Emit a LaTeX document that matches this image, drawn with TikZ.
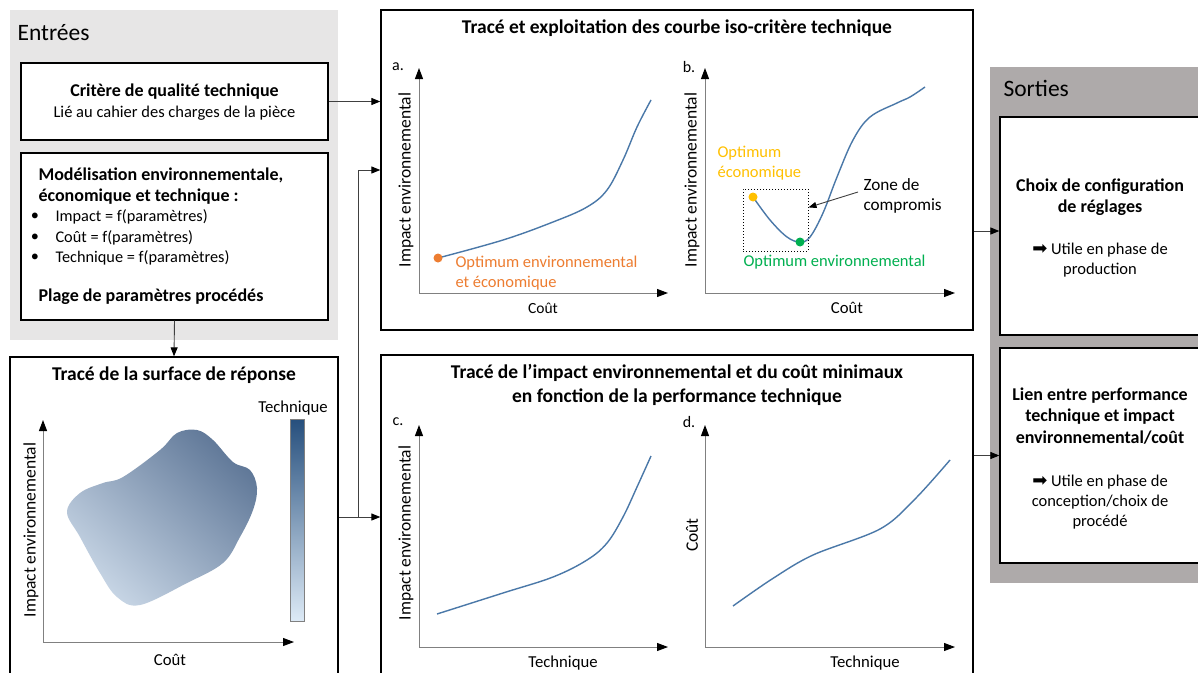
\documentclass[tikz,border=0pt]{standalone}
\usepackage{fontspec}
\setmainfont{Carlito}
\newfontfamily\symfont{DejaVu Sans}
\usetikzlibrary{arrows.meta,calc,shadings}
\definecolor{entreesbg}{HTML}{E7E6E6}
\definecolor{sortiesbg}{HTML}{AEAAAA}
\definecolor{linegray}{HTML}{404040}
\definecolor{axisgray}{HTML}{808080}
\definecolor{curveblue}{HTML}{4A78A8}
\definecolor{optorange}{HTML}{ED7D31}
\definecolor{optyellow}{HTML}{FFC000}
\definecolor{optgreen}{HTML}{00B050}
\definecolor{blobdark}{HTML}{4C6689}
\definecolor{blobmid}{HTML}{95A8C0}
\definecolor{bloblight}{HTML}{DDE9F5}
\definecolor{cbtop}{HTML}{264F7D}
\definecolor{cbbot}{HTML}{DDEAF6}
\newcommand\fsz[1]{\fontsize{#1}{\dimexpr #1pt*6/5\relax}\selectfont}
\newcommand\fszl[2]{\fontsize{#1}{#2}\selectfont}
\tikzset{
  panel/.style={rectangle, inner sep=0pt, draw=none},
  box/.style={rectangle, draw=black, line width=1.3pt, fill=white, inner sep=0pt},
  conn/.style={draw=linegray, line width=0.9pt},
  arr/.style={conn, -{Triangle[length=9pt,width=7pt,color=black]}},
  axis/.style={draw=axisgray, line width=1pt, -{Triangle[length=11pt,width=8pt,color=black]}},
  curve/.style={draw=curveblue, line width=1.4pt},
  ttl/.style={font=\bfseries\fszl{19.5}{24}},
  btxt/.style={font=\bfseries\fsz{18}},
  ntxt/.style={font=\fsz{16.3}},
  small/.style={font=\fsz{16.5}},
  coutlab/.style={font=\fsz{15.5}},
  axlab/.style={font=\fsz{17.5}},
  techlab/.style={font=\fsz{16.7}},
  letlab/.style={font=\fsz{16}},
  biglab/.style={font=\fsz{23.5}},
  optlab/.style={font=\fszl{16.5}{20}, anchor=west, align=left},
  outb/.style={font=\bfseries\fszl{18}{21.5}, align=center},
  outs/.style={font=\fszl{16.5}{20}, align=center},
}
\begin{document}
\begin{tikzpicture}[x=1pt,y=-1pt]
\useasboundingbox (0,0) rectangle (1198,672);
\clip (0,0) rectangle (1198,672);
% ---------- panels ----------
\node[panel, fill=entreesbg, minimum width=328pt, minimum height=330pt] (entrees) at (174,175) {};
\node[panel, fill=sortiesbg, minimum width=220pt, minimum height=516pt] (sorties) at (1100,325) {};
\node[biglab, anchor=west] (entl) at (14,33) {Entrées};
\node[biglab, anchor=west] (sortl) at (1000,88) {Sorties};
% ---------- input boxes ----------
\node[box, minimum width=307pt, minimum height=77pt] (crit) at (174.5,101.5) {};
\node[btxt] (critt) at (174.5,92) {Critère de qualité technique};
\node[small] (crits) at (174.5,113) {Lié au cahier des charges de la pièce};
\node[box, minimum width=307pt, minimum height=167pt] (model) at (174.5,236.5) {};
\node[btxt, anchor=west] (m1) at (35,175) {Modélisation environnementale,};
\node[btxt, anchor=west] (m2) at (35,197) {économique et technique :};
\node[ntxt] (b1) at (35,217) {•};
\node[ntxt] (b2) at (35,238) {•};
\node[ntxt] (b3) at (35,258) {•};
\node[ntxt, anchor=west] (m3) at (52,217) {Impact = f(paramètres)};
\node[ntxt, anchor=west] (m4) at (52,238) {Coût = f(paramètres)};
\node[ntxt, anchor=west] (m5) at (52,258) {Technique = f(paramètres)};
\node[btxt, anchor=west] (m6) at (35,297) {Plage de paramètres procédés};
% ---------- surface box ----------
\node[box, minimum width=328pt, minimum height=343pt] (surf) at (174,528.5) {};
\node[ttl] (surft) at (174,375) {Tracé de la surface de réponse};
\shade[upper right=blobdark, lower left=bloblight, upper left=blobmid, lower right=blobmid]
  plot[smooth cycle, tension=0.6] coordinates {(67,512) (80,493) (103,483) (123,477) (160,450) (177,433) (197,430) (213,440) (233,462) (250,470) (257,488) (253,510) (240,537) (223,563) (187,583) (140,605) (117,597) (100,573) (80,537)};
\node[draw=axisgray, line width=0.8pt, top color=cbtop, bottom color=cbbot, minimum width=14pt, minimum height=202pt, inner sep=0pt] (cbar) at (297,520) {};
\node[techlab] (cbl) at (293,408) {Technique};
\draw[axis] (43,642) -- (43,420);
\draw[axis] (43,642) -- (294,642);
\node[techlab] (sx) at (170,660) {Coût};
\node[axlab, rotate=90] (sy) at (31,530) {Impact environnemental};
% ---------- middle boxes ----------
\node[box, minimum width=592pt, minimum height=320pt] (topbox) at (677,170) {};
\node[ttl] (topt) at (677,28) {Tracé et exploitation des courbe iso-critère technique};
\node[box, minimum width=592pt, minimum height=345pt] (botbox) at (677,527.5) {};
\node[ttl, align=center] (bott) at (677,385) {Tracé de l’impact environnemental et du coût minimaux\\en fonction de la performance technique};
% chart a
\node[letlab] (la) at (398,67) {a.};
\draw[axis] (419,293) -- (419,68);
\draw[axis] (419,293) -- (668,293);
\node[coutlab] (ax) at (543,308) {Coût};
\node[axlab, rotate=90] (ay) at (406,180) {Impact environnemental};
\draw[curve] plot[smooth, tension=0.6] coordinates {(438,258) (503,240) (553,222) (587,207) (607,190) (623,160) (637,127) (651,100)};
\fill[optorange] (438,258) circle (4.5pt);
\node[optlab, text=optorange] (aopt) at (452,273) {Optimum environnemental\\et économique};
% chart b
\node[letlab] (lb) at (689,67) {b.};
\draw[axis] (705,293) -- (705,68);
\draw[axis] (705,293) -- (955,293);
\node[techlab] (bx) at (847,308) {Coût};
\node[axlab, rotate=90] (by) at (692,180) {Impact environnemental};
\node[draw, dotted, line width=1pt, minimum width=65pt, minimum height=62pt, inner sep=0pt] (zone) at (775.5,220) {};
\draw[curve] plot[smooth, tension=0.6] coordinates {(753,197) (770,220) (787,237) (800,242) (810,237) (823,213) (837,177) (853,140) (870,117) (897,103) (910,97) (925,87)};
\fill[optyellow] (753,197) circle (4.5pt);
\fill[optgreen] (800,242) circle (4.5pt);
\node[optlab, text=optyellow] (bopt1) at (714,163) {Optimum\\économique};
\node[optlab, text=optgreen] (bopt2) at (740,262) {Optimum environnemental};
\node[font=\fszl{17.2}{20.5}, anchor=west, align=left] (zlab) at (860,196) {Zone de\\compromis};
\draw[conn, -{Triangle[length=8pt,width=6pt,color=black]}] ($(zlab.west)+(-2,-4)$) -- ($(zone.north east)!0.3!(zone.south east)$);
% chart c
\node[letlab] (lc) at (398,422) {c.};
\draw[axis] (419,647) -- (419,425);
\draw[axis] (419,647) -- (668,647);
\node[techlab] (cx) at (563,663) {Technique};
\node[axlab, rotate=90] (cy) at (406,533) {Impact environnemental};
\draw[curve] plot[smooth, tension=0.6] coordinates {(437,614) (503,593) (553,577) (587,560) (607,543) (623,517) (637,487) (651,456)};
% chart d
\node[letlab] (ld) at (689,422) {d.};
\draw[axis] (705,647) -- (705,425);
\draw[axis] (705,647) -- (955,647);
\node[techlab] (dx) at (865,663) {Technique};
\node[axlab, rotate=90] (dy) at (692,535) {Coût};
\draw[curve] plot[smooth, tension=0.55] coordinates {(733,606) (772,579) (813,555) (880,529) (915,499) (950,460)};
% ---------- output boxes ----------
\node[box, minimum width=212pt, minimum height=218pt] (choix) at (1106,226) {};
\node[outb] (ct) at (1100,197) {Choix de configuration\\de réglages};
\node[outs] (cu) at (1100,260) {{\symfont\fsz{18}➡}~Utile en phase de\\production};
\node[box, minimum width=212pt, minimum height=215pt] (lien) at (1106,455.5) {};
\node[outb] (lt) at (1100,416) {Lien entre performance\\technique et impact\\environnemental/coût};
\node[outs] (lu) at (1100,502) {{\symfont\fsz{18}➡}~Utile en phase de\\conception/choix de\\procédé};
% ---------- connectors ----------
\coordinate (j) at (358,517);
\coordinate (tr) at ($(topbox.east)+(0,61)$);
\draw[arr] (crit.east) -- (crit.east -| topbox.west);
\draw[arr] (model.south) -- (surf.north);
\draw[conn] (j -| surf.east) -- (j);
\draw[arr] (j) |- (topbox.west);
\draw[arr] (j) -- (j -| botbox.west);
\draw[arr] (tr) -- (tr -| choix.west);
\draw[arr] (lien.west -| botbox.east) -- (lien.west);
\end{tikzpicture}
\end{document}
